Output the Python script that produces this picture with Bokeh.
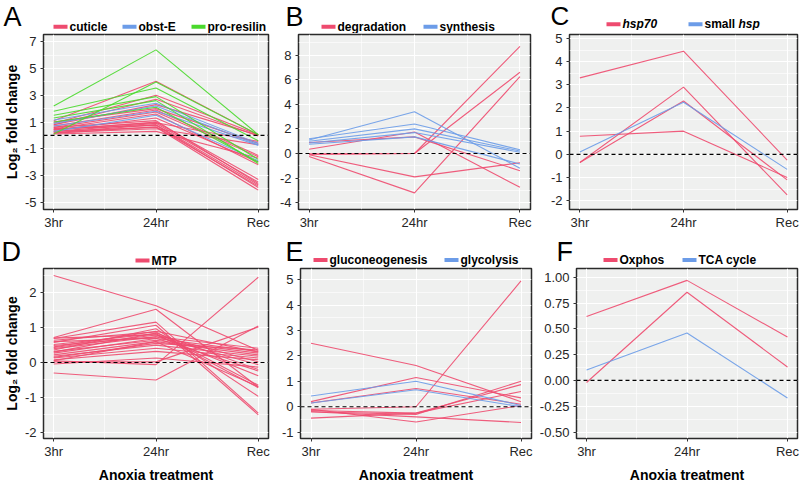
from bokeh.plotting import figure
from bokeh.models import ColumnDataSource, FixedTicker, Span
from bokeh.core.properties import value
from bokeh.layouts import column, row
from bokeh.embed import file_html
from bokeh.resources import INLINE

# ---------------- data ----------------
TIMEPOINTS = ["3hr", "24hr", "Rec"]

A_CUTICLE = [
    [1.1, 4.05, 0.05], [0.9, 3.0, 0.05], [0.8, 2.7, -0.05], [1.0, 2.0, -0.6],
    [0.7, 1.9, -1.5], [0.6, 1.75, -1.6], [0.5, 1.6, -2.2], [0.4, 1.0, -3.3],
    [0.3, 0.9, -3.5], [0.2, 0.8, -3.7], [0.5, 0.75, -3.9], [0.3, 0.6, -4.1],
    [0.6, 1.1, -3.6], [0.2, 0.5, -0.7], [0.1, 0.3, -1.7], [0.4, 1.3, -2.0],
    [0.8, 2.3, 0.0], [0.45, 0.95, -0.45], [0.15, 0.65, -3.8],
]
A_OBST_E = [[1.15, 2.4, -0.6], [0.9, 2.2, -0.7], [0.7, 1.8, -0.75], [0.3, 1.5, -1.9]]
A_PRO_RESILIN = [
    [2.2, 6.4, 0.05], [1.8, 3.55, -0.4], [1.5, 2.9, -1.8], [1.3, 2.6, -2.1],
    [0.1, 4.0, 0.05], [1.0, 2.1, -2.0],
]

B_DEGRADATION = [
    [0.35, 1.75, -2.75], [-0.05, 0.0, 8.7], [-0.05, 0.0, 6.6], [-0.25, -3.2, 6.25],
    [-0.1, -1.9, -0.75], [0.9, 1.35, -1.4],
]
B_SYNTHESIS = [[1.1, 3.4, -1.2], [1.2, 2.4, 0.3], [1.0, 2.0, 0.2], [0.85, 1.7, 0.1], [0.75, 1.35, -0.85]]

C_HSP70 = [[3.3, 4.45, -0.25], [-0.35, 2.9, -1.75], [-0.35, 2.3, -1.1], [0.78, 1.0, -1.0]]
C_SMALL_HSP = [[0.1, 2.25, -0.65]]

D_MTP = [
    [2.5, 1.63, 0.35], [0.72, 1.53, -0.7], [0.05, -0.06, 2.45], [-0.3, -0.5, 1.05],
    [0.02, 0.02, 1.02], [0.69, 1.16, -1.45], [0.58, 1.07, -1.5], [0.36, 0.97, -0.97],
    [0.64, 0.88, -0.65], [0.52, 0.83, -0.72], [0.43, 0.79, -0.38], [0.49, 0.74, 0.41],
    [0.27, 0.69, 0.32], [0.32, 0.64, 0.27], [0.22, 0.6, 0.22], [0.18, 0.5, 0.18],
    [0.13, 0.41, 0.13], [0.08, 0.32, 0.08], [0.7, 0.8, 0.02], [0.4, 0.74, -0.06],
    [-0.04, 0.13, -0.13], [0.3, 0.85, -0.2], [0.6, 0.7, -0.24], [0.15, 0.55, 0.36],
    [0.05, 0.6, -0.69], [0.45, 0.9, 0.3],
]

E_GLUCONEOGENESIS = [
    [2.5, 1.62, 0.2], [0.2, 1.15, 0.35], [0.15, 0.72, 0.1], [-0.1, 0.0, 4.95],
    [-0.2, -0.3, 1.0], [-0.15, -0.25, 0.87], [-0.45, -0.25, 0.6], [-0.1, -0.6, 0.05],
    [-0.2, -0.4, -0.62],
]
E_GLYCOLYSIS = [[0.42, 1.0, 0.05], [0.15, 0.67, 0.0]]

F_OXPHOS = [[0.62, 0.97, 0.42], [-0.02, 0.855, 0.13]]
F_TCA_CYCLE = [[0.1, 0.46, -0.17]]

A_YTICKS = [-5, -3, -1, 1, 3, 5, 7]
B_YTICKS = [-4, -2, 0, 2, 4, 6, 8]
C_YTICKS = [-2, -1, 0, 1, 2, 3, 4, 5]
D_YTICKS = [-2, -1, 0, 1, 2]
E_YTICKS = [-1, 0, 1, 2, 3, 4, 5]
F_YTICKS = [-0.5, -0.25, 0.0, 0.25, 0.5, 0.75, 1.0]
F_YLABELS = ["-0.50", "-0.25", "0.00", "0.25", "0.50", "0.75", "1.00"]

# ---------------- style ----------------
PINK = "#EE4B6F"
BLUE = "#6C9CE8"
GREEN = "#4AD92C"
BG = "#EFF0EF"
FONT = "Liberation Sans"
TXT = "#262626"

TIME_X = list(range(1, len(TIMEPOINTS) + 1))


def minor_between(t):
    step = t[1] - t[0]
    return [t[0] - step / 2] + [(a + b) / 2 for a, b in zip(t[:-1], t[1:])] + [t[-1] + step / 2]


def make_header(spec):
    """Panel letter + legend strip; its data space is page pixels (y downward)."""
    g = spec["geom"]
    x0, hy0, W, hh = g["x0"], g["hy0"], g["W"], g["hh"]
    h = figure(width=W, height=hh, output_backend="svg", toolbar_location=None,
               x_range=(x0, x0 + W), y_range=(hy0 + hh, hy0),
               x_axis_type=None, y_axis_type=None, frame_align=False,
               min_border_left=0, min_border_right=0, min_border_top=0, min_border_bottom=0)
    h.outline_line_color = None
    h.background_fill_color = "white"
    h.border_fill_color = "white"
    cy = spec["legend_cy"]
    colors = {lab: col for lab, col, _ in spec["groups"]}
    for gx, lab, parts in spec["legend"]:
        h.segment(x0=[gx], y0=[cy], x1=[gx + 14], y1=[cy], line_color=colors[lab], line_width=4)
        for dx, txt, style in parts:
            h.text(x=[gx + 16 + dx], y=[cy], text=[txt], text_font=value(FONT),
                   text_font_style=style, text_font_size="12px", text_color="black",
                   text_baseline="middle", text_align="left")
    lx, ltop = spec["letter_pos"]
    h.text(x=[lx], y=[ltop], text=[spec["letter"]], text_font=value(FONT),
           text_font_size=spec.get("letter_size", "27px"), text_color="black",
           text_baseline="top", text_align="left")
    return h


def make_panel(spec):
    g = spec["geom"]
    x0, y0, W = g["x0"], g["hy0"] + g["hh"], g["W"]
    H = g["bottom"] - y0
    fl, fr, ft, fb = g["fl"], g["fr"], g["ft"], g["fb"]
    p = figure(width=W, height=H, output_backend="svg", toolbar_location=None,
               x_range=(0.9, 3.1), y_range=spec["y_range"], frame_align=False,
               min_border_left=fl - x0, min_border_right=x0 + W - fr,
               min_border_top=ft - y0, min_border_bottom=y0 + H - fb)
    p.background_fill_color = BG
    p.border_fill_color = "white"
    p.outline_line_color = "#2a2a2a"
    p.outline_line_width = 1.5

    xt = FixedTicker(ticks=TIME_X, minor_ticks=minor_between(TIME_X))
    yt = FixedTicker(ticks=spec["yticks"], minor_ticks=minor_between(spec["yticks"]))
    p.xaxis.ticker = xt
    p.yaxis.ticker = yt
    p.xgrid.ticker = xt
    p.ygrid.ticker = yt
    p.grid.grid_line_color = "white"
    p.grid.grid_line_width = 1.1
    p.grid.minor_grid_line_color = "white"
    p.grid.minor_grid_line_width = 0.6

    p.xaxis.major_label_overrides = {x: t for x, t in zip(TIME_X, TIMEPOINTS)}
    ylabels = spec.get("ylabels") or [str(t) for t in spec["yticks"]]
    p.yaxis.major_label_overrides = {t: s for t, s in zip(spec["yticks"], ylabels)}
    for ax in (p.xaxis, p.yaxis):
        ax.axis_line_color = None
        ax.minor_tick_line_color = None
        ax.major_tick_line_color = "#333333"
        ax.major_tick_out = 3
        ax.major_tick_in = 0
        ax.major_label_text_font = FONT
        ax.major_label_text_font_size = "13px"
        ax.major_label_text_color = TXT
        ax.axis_label_text_font = FONT
        ax.axis_label_text_font_style = "bold"
        ax.axis_label_text_font_size = "14px"
        ax.axis_label_text_color = "black"
    p.xaxis.major_label_standoff = 1
    p.yaxis.major_label_standoff = 3
    if spec.get("ylab"):
        p.yaxis.axis_label = spec["ylab"]
        p.yaxis.axis_label_standoff = 2
    if spec.get("xlab"):
        p.xaxis.axis_label = spec["xlab"]
        p.xaxis.axis_label_standoff = 5

    p.add_layout(Span(location=0, dimension="width", line_color="black",
                      line_dash="4 3", line_width=1.1))

    for label, color, rows in spec["groups"]:
        src = ColumnDataSource(dict(xs=[TIME_X] * len(rows), ys=rows))
        p.multi_line(xs="xs", ys="ys", source=src, line_color=color,
                     line_width=1.1, line_alpha=0.9)
    return p


YLAB = "Log\u2082 fold change"
XLAB = "Anoxia treatment"
B = "bold"
BI = "bold italic"

R1 = dict(hy0=0, hh=33, bottom=236)      # header 0..33, plot 33..236
R1C = dict(hy0=0, hh=30, bottom=236)     # panel C: taller plot so its top tick label fits
R2 = dict(hy0=236, hh=31, bottom=485)    # header 236..267, plot 267..485

specs = [
    dict(letter="A", letter_pos=(3, 1.5), y_range=(-5.55, 7.55), yticks=A_YTICKS, ylab=YLAB,
         geom=dict(x0=0, W=270, fl=38, fr=268, ft=34, fb=209, **R1),
         groups=[("cuticle", PINK, A_CUTICLE), ("obst-E", BLUE, A_OBST_E),
                 ("pro-resilin", GREEN, A_PRO_RESILIN)],
         legend_cy=26.3,
         legend=[(53, "cuticle", [(0, "cuticle", B)]), (122, "obst-E", [(0, "obst-E", B)]),
                 (191, "pro-resilin", [(0, "pro-resilin", B)])]),
    dict(letter="B", letter_pos=(285, 1), y_range=(-4.55, 9.67), yticks=B_YTICKS,
         geom=dict(x0=270, W=266, fl=298, fr=530, ft=34, fb=209, **R1),
         groups=[("degradation", PINK, B_DEGRADATION), ("synthesis", BLUE, B_SYNTHESIS)],
         legend_cy=26.3,
         legend=[(321, "degradation", [(0, "degradation", B)]),
                 (423, "synthesis", [(0, "synthesis", B)])]),
    dict(letter="C", letter_pos=(550, 0.5), letter_size="26px", y_range=(-2.38, 5.17), yticks=C_YTICKS,
         geom=dict(x0=536, W=266, fl=569, fr=797, ft=34, fb=209, **R1C),
         groups=[("hsp70", PINK, C_HSP70), ("small hsp", BLUE, C_SMALL_HSP)],
         legend_cy=23.8,
         legend=[(606, "hsp70", [(0, "hsp70", BI)]),
                 (688, "small hsp", [(0, "small", B), (34, "hsp", BI)])]),
    dict(letter="D", letter_pos=(1, 236.5), y_range=(-2.18, 2.7), yticks=D_YTICKS, ylab=YLAB, xlab=XLAB,
         geom=dict(x0=0, W=270, fl=38, fr=268, ft=268, fb=442, **R2),
         groups=[("MTP", PINK, D_MTP)],
         legend_cy=260,
         legend=[(135, "MTP", [(0, "MTP", B)])]),
    dict(letter="E", letter_pos=(285, 236.5), y_range=(-1.25, 5.44), yticks=E_YTICKS, xlab=XLAB,
         geom=dict(x0=270, W=266, fl=300, fr=531, ft=268, fb=442, **R2),
         groups=[("gluconeogenesis", PINK, E_GLUCONEOGENESIS), ("glycolysis", BLUE, E_GLYCOLYSIS)],
         legend_cy=259.5,
         legend=[(313, "gluconeogenesis", [(0, "gluconeogenesis", B)]),
                 (444, "glycolysis", [(0, "glycolysis", B)])]),
    dict(letter="F", letter_pos=(556, 236.5), y_range=(-0.563, 1.085), yticks=F_YTICKS,
         ylabels=F_YLABELS, xlab=XLAB,
         geom=dict(x0=536, W=266, fl=568, fr=797, ft=268, fb=442, **R2),
         groups=[("Oxphos", PINK, F_OXPHOS), ("TCA cycle", BLUE, F_TCA_CYCLE)],
         legend_cy=259.5,
         legend=[(603, "Oxphos", [(0, "Oxphos", B)]), (682, "TCA cycle", [(0, "TCA cycle", B)])]),
]

cols = [column(make_header(s), make_panel(s)) for s in specs]
layout = column(row(*cols[:3]), row(*cols[3:]))

open("out.html", "w").write(file_html(layout, INLINE))
